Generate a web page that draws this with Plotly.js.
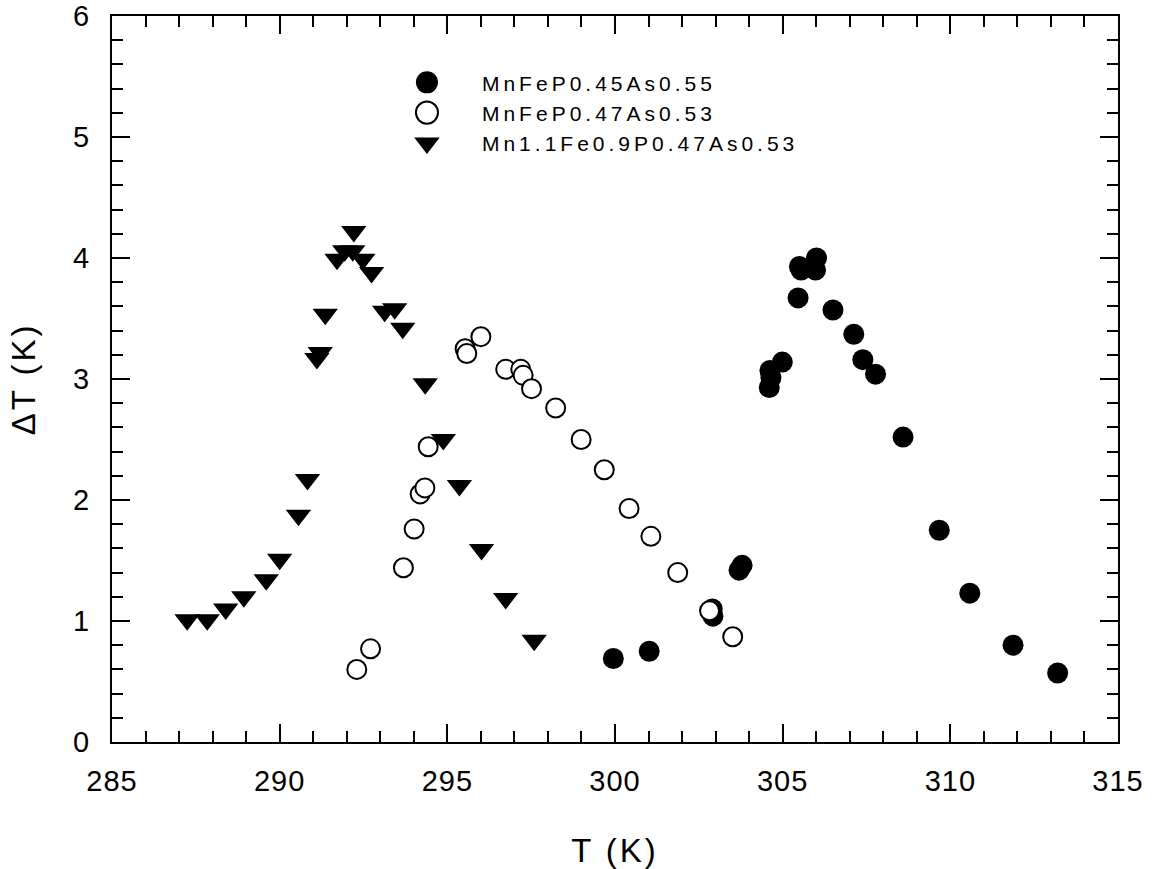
<!DOCTYPE html>
<html>
<head>
<meta charset="utf-8">
<script src="https://cdn.plot.ly/plotly-3.0.1.min.js"></script>
<style>
  html, body { margin: 0; padding: 0; background: #fff; }
  #chart { width: 1154px; height: 869px; }
  .legendtext { letter-spacing: 4px; }
  .xtick text { letter-spacing: 1px; }
  .g-xtitle text, .g-ytitle text { letter-spacing: 3px; }
  .legendpoints path { vector-effect: non-scaling-stroke; }
</style>
</head>
<body>
<div id="chart"></div>
<script>
// Series names
const seriesNames = ["MnFeP0.45As0.55", "MnFeP0.47As0.53", "Mn1.1Fe0.9P0.47As0.53"];

// MnFeP0.45As0.55 (filled circles)
const tempA = [299.95, 301.02, 302.90, 302.92, 303.70, 303.79, 304.60, 304.65, 304.62, 304.99,
               305.46, 305.50, 305.55, 305.98, 306.01, 306.50, 307.12, 307.39, 307.77, 308.59,
               309.67, 310.58, 311.87, 313.20];
const dTA   = [0.69, 0.75, 1.10, 1.04, 1.42, 1.46, 2.93, 3.01, 3.07, 3.14,
               3.67, 3.93, 3.90, 3.90, 4.00, 3.57, 3.37, 3.16, 3.04, 2.52,
               1.75, 1.23, 0.80, 0.57];

// MnFeP0.47As0.53 (open circles)
const tempB = [292.30, 292.71, 293.69, 294.01, 294.19, 294.33, 294.43, 295.53, 295.58, 296.00,
               296.74, 297.19, 297.26, 297.51, 298.23, 298.99, 299.68, 300.42, 301.07, 301.87,
               302.82, 303.51];
const dTB   = [0.60, 0.77, 1.44, 1.76, 2.05, 2.10, 2.44, 3.25, 3.21, 3.35,
               3.08, 3.08, 3.03, 2.92, 2.76, 2.50, 2.25, 1.93, 1.70, 1.40,
               1.085, 0.87];

// Mn1.1Fe0.9P0.47As0.53 (filled down-triangles)
const tempC = [287.24, 287.84, 288.39, 288.93, 289.60, 290.00, 290.56, 290.83, 291.11, 291.21,
               291.36, 291.71, 291.94, 292.18, 292.21, 292.48, 292.74, 293.13, 293.43, 293.67,
               294.34, 294.88, 295.36, 296.02, 296.74, 297.59];
const dTC   = [1.01, 1.01, 1.10, 1.20, 1.34, 1.51, 1.875, 2.17, 3.17, 3.22,
               3.535, 3.99, 4.06, 4.06, 4.22, 3.99, 3.88, 3.56, 3.58, 3.42,
               2.96, 2.50, 2.12, 1.59, 1.185, 0.84];

// Axis text
const xTitle = "T (K)";
const yTitle = "\u0394T (K)";

const FONT = "Liberation Sans, Arial, Helvetica, sans-serif";

const traces = [
  { x: tempC, y: dTC, name: seriesNames[2], legendrank: 3, type: "scatter", mode: "markers",
    marker: { symbol: "triangle-down", size: 22, color: "#000", line: { width: 0 } } },
  { x: tempA, y: dTA, name: seriesNames[0], legendrank: 1, type: "scatter", mode: "markers",
    marker: { symbol: "circle", size: 21, color: "#000", line: { width: 0 } } },
  { x: tempB, y: dTB, name: seriesNames[1], legendrank: 2, type: "scatter", mode: "markers",
    marker: { symbol: "circle", size: 19, color: "#fff", line: { color: "#000", width: 2 } } }
];

const axisCommon = {
  showgrid: false, zeroline: false, showline: true, linecolor: "#000", linewidth: 2, mirror: "allticks",
  ticks: "inside", ticklen: 18, tickwidth: 2, tickcolor: "#000",
  tickfont: { family: FONT, size: 29, color: "#000" }
};

const layout = {
  width: 1154, height: 869, paper_bgcolor: "#fff", plot_bgcolor: "#fff",
  margin: { l: 112, r: 36, t: 16, b: 127, pad: 0 },
  showlegend: true,
  legend: {
    x: 0.2584, y: 0.9364, xanchor: "left", yanchor: "top",
    bgcolor: "rgba(0,0,0,0)", borderwidth: 0,
    font: { family: FONT, size: 21, color: "#000" },
    itemsizing: "trace", itemwidth: 100, tracegroupgap: 0
  },
  xaxis: Object.assign({}, axisCommon, {
    range: [285, 315], dtick: 5, tick0: 285,
    minor: { dtick: 1, ticks: "inside", ticklen: 11, tickwidth: 2, tickcolor: "#000" },
    ticklabelstandoff: 12,
    title: { text: xTitle, font: { family: FONT, size: 33, color: "#000" }, standoff: 44 }
  }),
  yaxis: Object.assign({}, axisCommon, {
    range: [0, 6], dtick: 1, tick0: 0,
    minor: { dtick: 0.2, ticks: "inside", ticklen: 11, tickwidth: 2, tickcolor: "#000" },
    ticklabelstandoff: 15,
    title: { text: yTitle, font: { family: FONT, size: 33, color: "#000" }, standoff: 28 }
  })
};

Plotly.newPlot("chart", traces, layout, { displayModeBar: false, staticPlot: true }).then(function () {
  // enlarge legend symbols to match the size of the plotted markers
  document.querySelectorAll(".legendpoints path").forEach(function (p) {
    const t = p.getAttribute("transform") || "";
    p.setAttribute("transform", t + " scale(1.38)");
  });
});
</script>
</body>
</html>
